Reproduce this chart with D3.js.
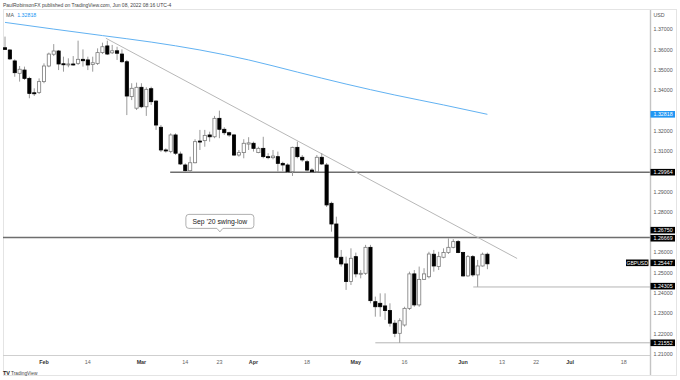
<!DOCTYPE html>
<html><head><meta charset="utf-8">
<script src="https://cdn.jsdelivr.net/npm/d3@7"></script>
<style>html,body{margin:0;padding:0;background:#fff;}svg{display:block;font-family:"Liberation Sans",Arial,sans-serif;}</style>
</head><body><svg id="c" width="680" height="380"></svg>
<script>
// ---- DATA ----
const firstDate = "2022-01-20";
const lastAxisDate = "2022-07-29";
const open  = [1.3610,1.3599,1.3545,1.3484,1.3500,1.3459,1.3388,1.3390,1.3443,1.3520,1.3578,1.3594,1.3531,1.3528,1.3530,1.3533,1.3553,1.3550,1.3528,1.3533,1.3586,1.3619,1.3585,1.3595,1.3579,1.3541,1.3369,1.3312,1.3415,1.3319,1.3408,1.3347,1.3218,1.3106,1.3098,1.3180,1.3086,1.3032,1.3004,1.3043,1.3150,1.3152,1.3180,1.3171,1.3262,1.3208,1.3191,1.3180,1.3081,1.3093,1.3135,1.3139,1.3093,1.3114,1.3073,1.3068,1.3073,1.3040,1.3032,1.2999,1.3119,1.3070,1.3048,1.3007,1.2999,1.3070,1.3032,1.2843,1.2741,1.2577,1.2544,1.2457,1.2580,1.2494,1.2498,1.2626,1.2358,1.2350,1.2337,1.2314,1.2252,1.2202,1.2243,1.2325,1.2495,1.2342,1.2468,1.2481,1.2592,1.2531,1.2577,1.2600,1.2626,1.2654,1.2600,1.2485,1.2580,1.2490,1.2534,1.2592];
const high  = [1.3665,1.3602,1.3553,1.3520,1.3517,1.3467,1.3410,1.3459,1.3533,1.3586,1.3628,1.3599,1.3566,1.3558,1.3569,1.3645,1.3602,1.3566,1.3566,1.3607,1.3635,1.3645,1.3624,1.3615,1.3602,1.3550,1.3435,1.3438,1.3435,1.3415,1.3418,1.3352,1.3229,1.3114,1.3188,1.3188,1.3098,1.3040,1.3073,1.3159,1.3205,1.3205,1.3196,1.3274,1.3300,1.3218,1.3196,1.3185,1.3106,1.3159,1.3169,1.3147,1.3122,1.3171,1.3090,1.3106,1.3098,1.3048,1.3040,1.3122,1.3147,1.3081,1.3057,1.3016,1.3081,1.3090,1.3042,1.2851,1.2777,1.2613,1.2580,1.2621,1.2600,1.2514,1.2638,1.2638,1.2383,1.2399,1.2399,1.2350,1.2268,1.2276,1.2333,1.2506,1.2514,1.2531,1.2523,1.2604,1.2613,1.2604,1.2621,1.2670,1.2666,1.2662,1.2604,1.2588,1.2588,1.2564,1.2600,1.2600];
const low   = [1.3599,1.3550,1.3467,1.3443,1.3451,1.3361,1.3372,1.3382,1.3435,1.3514,1.3569,1.3500,1.3492,1.3514,1.3522,1.3525,1.3517,1.3500,1.3492,1.3525,1.3579,1.3574,1.3579,1.3550,1.3536,1.3278,1.3352,1.3303,1.3312,1.3274,1.3328,1.3205,1.3096,1.3093,1.3090,1.3081,1.3032,1.2999,1.2997,1.3040,1.3106,1.3122,1.3147,1.3164,1.3164,1.3180,1.3171,1.3076,1.3073,1.3065,1.3106,1.3098,1.3090,1.3065,1.3060,1.3060,1.2999,1.3000,1.2994,1.2978,1.3065,1.3048,1.2999,1.2994,1.2994,1.3032,1.2825,1.2703,1.2564,1.2531,1.2416,1.2440,1.2478,1.2473,1.2490,1.2350,1.2284,1.2284,1.2268,1.2235,1.2183,1.2155,1.2235,1.2317,1.2333,1.2333,1.2465,1.2473,1.2506,1.2514,1.2572,1.2593,1.2621,1.2597,1.2481,1.2481,1.2481,1.2431,1.2531,1.2518];
const close = [1.3602,1.3555,1.3487,1.3504,1.3459,1.3385,1.3385,1.3443,1.3520,1.3579,1.3594,1.3530,1.3528,1.3530,1.3527,1.3553,1.3546,1.3525,1.3536,1.3586,1.3615,1.3579,1.3595,1.3583,1.3541,1.3372,1.3410,1.3415,1.3319,1.3405,1.3344,1.3229,1.3106,1.3104,1.3180,1.3090,1.3037,1.3004,1.3043,1.3147,1.3147,1.3178,1.3171,1.3262,1.3208,1.3191,1.3180,1.3081,1.3093,1.3139,1.3141,1.3114,1.3114,1.3073,1.3068,1.3076,1.3040,1.3032,1.2999,1.3119,1.3073,1.3057,1.3007,1.2999,1.3070,1.3037,1.2835,1.2741,1.2577,1.2544,1.2457,1.2572,1.2495,1.2498,1.2626,1.2363,1.2333,1.2333,1.2314,1.2252,1.2202,1.2264,1.2325,1.2495,1.2342,1.2468,1.2495,1.2593,1.2534,1.2580,1.2600,1.2626,1.2654,1.2600,1.2485,1.2580,1.2490,1.2534,1.2592,1.25447];
// moving average readings (candle index, value)
const maIdx = [0,10,20,30,40,50,60,70,80,90,99];
const maVal = [1.3735,1.3702,1.3670,1.3638,1.3599,1.3550,1.3490,1.3431,1.3377,1.3328,1.32818];
// trend line (candle index, price)
const trendIdx = [20.7,105.1];
const trendVal = [1.3657,1.2571];
// horizontal levels
const levelVal   = [1.29964,1.2675,1.24305,1.21552];
const levelStart = [33.9,-2,96.1,76.0];
const levelStrong= [true,true,false,false];
// x-axis ticks
const tickDates  = ["2022-02-01","2022-02-14","2022-03-01","2022-03-14","2022-03-23","2022-04-01","2022-04-18","2022-05-02","2022-05-16","2022-06-01","2022-06-13","2022-06-22","2022-07-01","2022-07-18"];
const tickLabels = ["Feb","14","Mar","14","23","Apr","18","May","16","Jun","13","22","Jul","18"];
// y-axis ticks
const yTicks = [1.37,1.36,1.35,1.34,1.33,1.32,1.31,1.30,1.29,1.28,1.27,1.26,1.25,1.24,1.23,1.22,1.21];
// price tags
const tagVal   = [1.32818,1.29964,1.2675,1.26669,1.25447,1.24305,1.21552];
const tagText  = ["1.32818","1.29964","1.26750","1.26669","1.25447","1.24305","1.21552"];
const tagColor = ["#2196f3","#000","#000","#000","#000","#000","#000"];
const tagShift = [0,0,-7.2,-0.8,-1,-0.8,0];
const symbol = "GBPUSD";

// ---- BUILD ----
const svg = d3.select("#c");
const plotRight = 650;
const parse = d3.timeParse("%Y-%m-%d");
const days = d3.timeDay.range(parse(firstDate), d3.timeDay.offset(parse(lastAxisDate),1))
  .filter(d => d.getDay()!==0 && d.getDay()!==6);
const fmt = d3.timeFormat("%Y-%m-%d");
const dayIndex = new Map(days.map((d,i)=>[fmt(d),i]));

const x = d3.scaleLinear().domain([0,99]).range([5,487.4]);
const y = d3.scaleLinear().domain([1.21,1.37]).range([354,29.5]);

svg.append("rect").attr("width",680).attr("height",380).attr("fill","#fff");
svg.append("rect").attr("x",3.5).attr("y",9.5).attr("width",673).attr("height",366).attr("fill","none").attr("stroke","#e4e4e4");

svg.append("defs").append("clipPath").attr("id","pc").append("rect").attr("x",3).attr("y",10).attr("width",plotRight-3).attr("height",345);
const plot = svg.append("g").attr("clip-path","url(#pc)");

// MA line
const maData = maIdx.map((d,i)=>[d,maVal[i]]);
plot.append("path").datum(maData)
  .attr("d", d3.line().x(d=>x(d[0])).y(d=>y(d[1])).curve(d3.curveMonotoneX))
  .attr("fill","none").attr("stroke","#62b2f2").attr("stroke-width",1);

// levels
levelVal.forEach((v,i)=>{
  plot.append("line").attr("x1",x(levelStart[i])).attr("x2",plotRight)
    .attr("y1",y(v)).attr("y2",y(v))
    .attr("stroke", levelStrong[i] ? "#6e6e6e" : "#b4b4b4")
    .attr("stroke-width", levelStrong[i] ? 1.5 : 1);
});

// trend line
plot.append("line").attr("x1",x(trendIdx[0])).attr("y1",y(trendVal[0]))
  .attr("x2",x(trendIdx[1])).attr("y2",y(trendVal[1]))
  .attr("stroke","#b8b8b8").attr("stroke-width",1);

// candles
const bw = 3.2;
const idx = d3.range(open.length);
const cg = plot.append("g");
cg.selectAll("line.w").data(idx).join("line")
  .attr("x1",i=>x(i)).attr("x2",i=>x(i))
  .attr("y1",i=>y(high[i])).attr("y2",i=>y(low[i]))
  .attr("stroke","#9a9a9a").attr("stroke-width",1);
cg.selectAll("rect.b").data(idx).join("rect")
  .attr("x",i=>x(i)-bw/2)
  .attr("y",i=>y(Math.max(open[i],close[i])))
  .attr("width",bw)
  .attr("height",i=>Math.max(1,Math.abs(y(open[i])-y(close[i]))))
  .attr("fill",i=>close[i]>=open[i]?"#fff":"#000")
  .attr("stroke",i=>close[i]>=open[i]?"#7a7a7a":"#000")
  .attr("stroke-width",0.8);

// callout
const calloutIdx = 44.1, calloutVal = 1.2675;
const cx = x(calloutIdx), cyLine = y(calloutVal);
const bx0 = cx-34, bx1 = cx+34, by0 = cyLine-23, by1 = cyLine-9;
svg.append("path")
  .attr("d",`M${bx0+3},${by0} H${bx1-3} Q${bx1},${by0} ${bx1},${by0+3} V${by1-3} Q${bx1},${by1} ${bx1-3},${by1} H${cx+3} L${cx},${by1+3.5} L${cx-3},${by1} H${bx0+3} Q${bx0},${by1} ${bx0},${by1-3} V${by0+3} Q${bx0},${by0} ${bx0+3},${by0} Z`)
  .attr("fill","#fff").attr("stroke","#9c9c9c").attr("stroke-width",0.8);
svg.append("text").attr("x",cx).attr("y",(by0+by1)/2+2.4).attr("text-anchor","middle")
  .attr("font-size",6.8).attr("fill","#222").text("Sep \u201920 swing-low");

// axes lines
svg.append("line").attr("x1",3).attr("x2",plotRight).attr("y1",355.5).attr("y2",355.5).attr("stroke","#cfcfcf").attr("stroke-width",1);
svg.append("line").attr("x1",plotRight+0.5).attr("x2",plotRight+0.5).attr("y1",10).attr("y2",375).attr("stroke","#c4c4c4").attr("stroke-width",1.4);

// y tick labels (hidden where a price tag sits, as in the reference)
const tagY = tagVal.map((v,i)=>y(v)+tagShift[i]);
const visibleTicks = yTicks.filter(t => tagY.every(ty => Math.abs(y(t)-ty) > 6));
svg.append("g").selectAll("text").data(visibleTicks).join("text")
  .attr("x",653.5).attr("y",d=>y(d)+1.8).attr("font-size",5.3).attr("fill","#555")
  .text(d=>d3.format(".5f")(d));
svg.append("text").attr("x",653.5).attr("y",16.5).attr("font-size",5.3).attr("fill","#555").text("USD");

// price tags
tagVal.forEach((v,i)=>{
  const cy = tagY[i];
  svg.append("rect").attr("x",plotRight+0.5).attr("y",cy-3.3).attr("width",24.5).attr("height",6.6).attr("fill",tagColor[i]);
  svg.append("text").attr("x",653.5).attr("y",cy+1.9).attr("font-size",5.3).attr("fill","#fff").text(tagText[i]);
});
{
  const cy = tagY[4];
  svg.append("rect").attr("x",626).attr("y",cy-3.3).attr("width",22.5).attr("height",6.6).attr("fill","#000");
  svg.append("text").attr("x",637.2).attr("y",cy+1.9).attr("text-anchor","middle").attr("font-size",5.1).attr("fill","#fff").text(symbol);
}

// x tick labels
svg.append("g").selectAll("text").data(tickDates).join("text")
  .attr("x",d=>x(dayIndex.get(d))).attr("y",363.5).attr("text-anchor","middle")
  .attr("font-size",5.4).attr("fill",(d,i)=>isNaN(+tickLabels[i])?"#333":"#666")
  .attr("font-weight",(d,i)=>isNaN(+tickLabels[i])?"bold":"normal")
  .text((d,i)=>tickLabels[i]);

// header
svg.append("text").attr("x",3).attr("y",6.5).attr("font-size",5).attr("fill","#444")
  .text("PaulRobinsonFX published on TradingView.com, Jun 08, 2022 08:16 UTC-4");
const maT = svg.append("text").attr("x",6).attr("y",17).attr("font-size",5.3);
maT.append("tspan").attr("fill","#555").text("MA ");
maT.append("tspan").attr("fill","#2196f3").attr("dx",2).text(d3.format(".5f")(maVal[maVal.length-1]));

// footer logo
svg.append("text").attr("x",3).attr("y",375).attr("font-size",5.5).attr("font-weight","bold").attr("fill","#222").text("TV");
svg.append("text").attr("x",11).attr("y",375).attr("font-size",4.8).attr("fill","#444").text("TradingView");
</script></body></html>
